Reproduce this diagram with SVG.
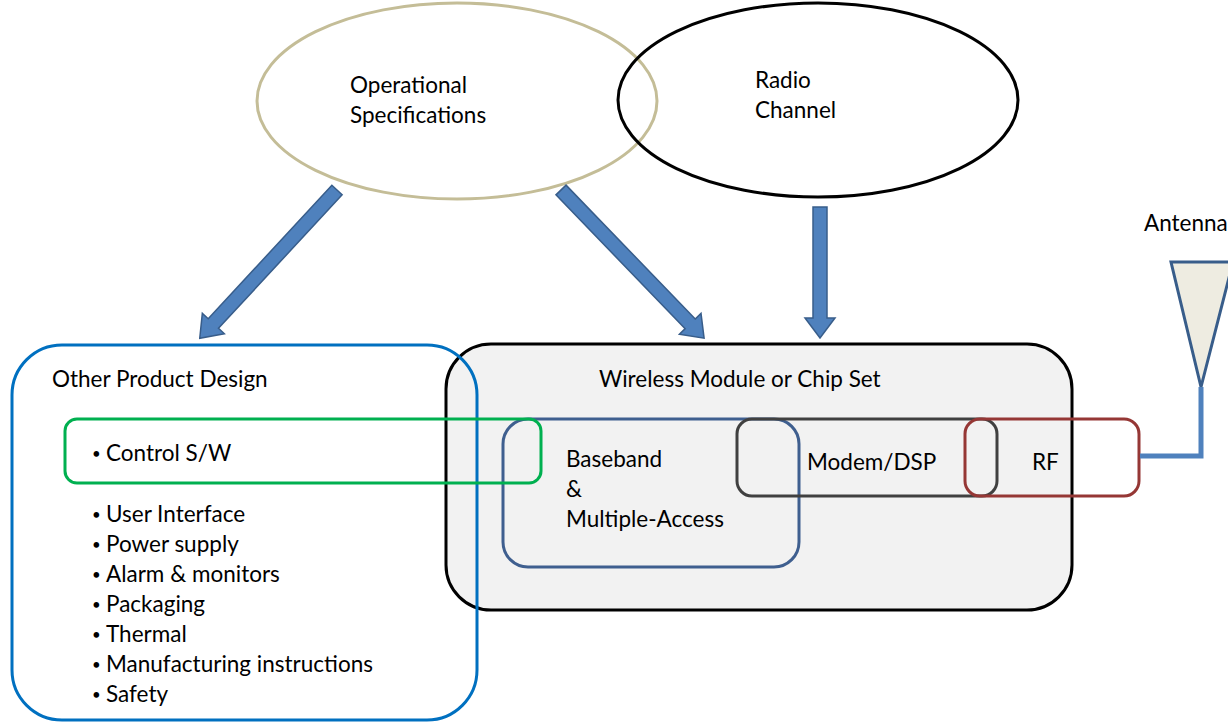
<svg xmlns="http://www.w3.org/2000/svg" width="1228" height="723" viewBox="0 0 1228 723">
<defs>
<style>
.t{font-family:Lato,"Liberation Sans",sans-serif;font-size:22.5px;fill:#000}
.b{font-size:15px}
.arrow{fill:#4F81BD;stroke:#385D8A;stroke-width:1.5}
</style>
</defs>
<rect width="1228" height="723" fill="#fff"/>
<g id="wireless">
<rect x="446" y="344" width="626" height="266" rx="45" fill="#F2F2F2" stroke="#000" stroke-width="3"/>
<text class="t" x="599" y="387">Wireless Module or Chip Set</text>
</g>
<g id="other-product">
<rect x="12" y="345" width="465" height="375" rx="50" fill="none" stroke="#0070C0" stroke-width="3"/>
<text class="t" x="52" y="387">Other Product Design</text>
<text class="t"><tspan class="b" x="92" y="520">•</tspan><tspan x="106" y="522">User Interface</tspan><tspan class="b" x="92" y="550">•</tspan><tspan x="106" y="552">Power supply</tspan><tspan class="b" x="92" y="580">•</tspan><tspan x="106" y="582">Alarm &amp; monitors</tspan><tspan class="b" x="92" y="610">•</tspan><tspan x="106" y="612">Packaging</tspan><tspan class="b" x="92" y="640">•</tspan><tspan x="106" y="642">Thermal</tspan><tspan class="b" x="92" y="670">•</tspan><tspan x="106" y="672">Manufacturing instructions</tspan><tspan class="b" x="92" y="700">•</tspan><tspan x="106" y="702">Safety</tspan></text>
</g>
<g id="baseband">
<rect x="503" y="419" width="296" height="148" rx="25" fill="none" stroke="#3F5F8F" stroke-width="3"/>
<text class="t"><tspan x="566" y="467">Baseband</tspan><tspan x="566" y="497">&amp;</tspan><tspan x="566" y="527">Multiple-Access</tspan></text>
</g>
<g id="control-sw">
<rect x="65" y="419" width="476" height="64" rx="12" fill="none" stroke="#00B050" stroke-width="3"/>
<text class="t"><tspan class="b" x="92" y="459">•</tspan><tspan x="106" y="461">Control S/W</tspan></text>
</g>
<g id="modem">
<rect x="737" y="419" width="260" height="77" rx="15" fill="none" stroke="#404040" stroke-width="3"/>
<text class="t" x="807" y="470">Modem/DSP</text>
</g>
<g id="rf">
<rect x="965" y="419" width="174" height="77" rx="15" fill="none" stroke="#953735" stroke-width="3"/>
<text class="t" x="1032" y="470">RF</text>
</g>
<g id="antenna">
<polygon points="1171,262 1233,262 1201,387" fill="#EEECE1" stroke="#385D8A" stroke-width="3"/>
<text class="t" x="1144" y="231">Antenna</text>
</g>
<g id="op-spec">
<ellipse cx="457" cy="101" rx="200" ry="98" fill="none" stroke="#C4BD97" stroke-width="3"/>
<text class="t"><tspan x="350" y="93">Operational</tspan><tspan x="350" y="123">Specifications</tspan></text>
</g>
<g id="radio-channel">
<ellipse cx="818" cy="100" rx="200" ry="97" fill="none" stroke="#000" stroke-width="3"/>
<text class="t"><tspan x="755" y="88">Radio</tspan><tspan x="755" y="118">Channel</tspan></text>
</g>
<g id="connectors">
<polygon class="arrow" transform="translate(337,190) rotate(132.8)" points="0,-7 182,-7 182,-15 202,0 182,15 182,7 0,7"/>
<polygon class="arrow" transform="translate(561,190) rotate(46)" points="0,-7 186,-7 186,-15 206,0 186,15 186,7 0,7"/>
<polygon class="arrow" transform="translate(820,207) rotate(90)" points="0,-7 111,-7 111,-15 131,0 111,15 111,7 0,7"/>
<polyline points="1201,387 1201,456 1140,456" fill="none" stroke="#4F81BD" stroke-width="5"/>
</g>
</svg>
